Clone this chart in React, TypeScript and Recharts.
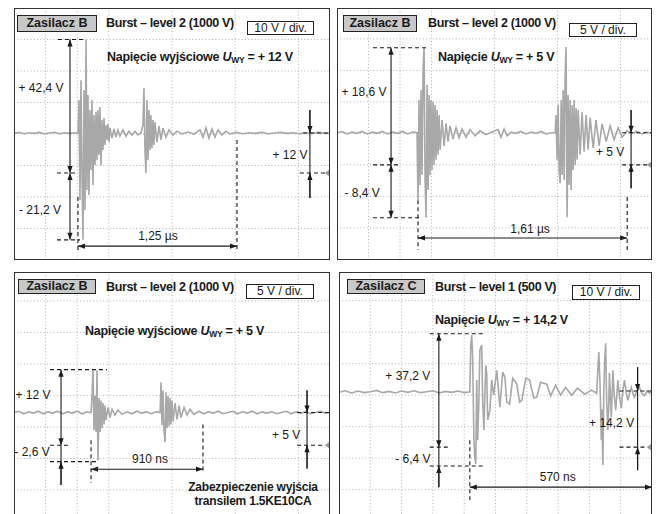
import { LineChart, Line, XAxis, YAxis, CartesianGrid, ReferenceLine, ReferenceDot } from 'recharts'

type Pt = [number, number]
type Seg = { a: Pt; b: Pt; kind: 'dash' | 'line' | 'end' | 'both' }
type Note = { at: Pt; text: string }

const FONT = '"Liberation Sans", Arial, Helvetica, sans-serif'
const TRACE = '#a8a8a8'
const INK = '#1a1a1a'

// t in ns, u in V (measured against the ground marker)

// Zasilacz B, level 2 (1000 V), +12 V, 10 V/div
const trace1: Pt[] = [
  [0, 12.6], [40, 12.9], [80, 12.5], [120, 12.8], [160, 12.6], [200, 12.9], [240, 12.5], [280, 12.7], [320, 12.9], [360, 12.5], [400, 12.8], [440, 12.6], [480, 12.8], [500, 12.6],
  [506, 12.7], [514, 23.2], [522, -8.6], [530, 29.5], [538, -0.6], [546, -21.2], [554, 26.3], [562, -11.7], [570, 42.4], [577, -5.4], [585, 24.8], [593, -7.0], [601, 20.0], [609, 1.0], [617, 23.2], [625, -3.8], [633, 18.4], [641, 2.5], [649, 19.4], [657, 4.1], [664, 20.0], [672, 5.7], [680, 21.0], [688, 2.5], [696, 16.8], [704, 7.3], [712, 17.5], [720, 8.9], [728, 15.2], [736, 10.5], [743, 15.6], [751, 9.8], [759, 14.3], [775, 11.1], [791, 14.0], [807, 11.4], [822, 13.7], [838, 11.7], [862, 13.7], [886, 11.7], [909, 13.3], [933, 12.1], [957, 13.3], [981, 12.1], [1004, 12.7],
  [1020, 15.2], [1028, 27.0], [1036, 7.3], [1044, 0], [1052, 23.2], [1060, 4.1], [1068, 20.0], [1076, 7.3], [1083, 18.4], [1091, 7.9], [1099, 16.8], [1107, 8.9], [1115, 16.2], [1131, 9.8], [1147, 14.9], [1163, 10.5], [1178, 14.3], [1202, 11.4], [1226, 13.7], [1258, 12.1], [1289, 13.3], [1329, 12.4], [1376, 13.0], [1424, 12.4],
  [1471, 13.7], [1495, 11.4], [1519, 14.3], [1542, 11.1], [1566, 14.0], [1590, 11.4], [1614, 13.7], [1645, 12.1], [1677, 13.3], [1709, 12.4],
  [1760, 12.9], [1810, 12.5], [1860, 12.8], [1910, 12.6], [1960, 12.9], [2010, 12.5], [2060, 12.7], [2110, 12.9], [2160, 12.6], [2210, 12.8], [2260, 12.5], [2310, 12.8], [2360, 12.6], [2410, 12.9], [2460, 12.6], [2500, 12.7],
]
const segs1: Seg[] = [
  { a: [348, 42.4], b: [546, 42.4], kind: 'dash' },
  { a: [340, 0], b: [506, 0], kind: 'dash' },
  { a: [340, -21.2], b: [522, -21.2], kind: 'dash' },
  { a: [506, -7.6], b: [506, -24.5], kind: 'dash' },
  { a: [1764, 10.5], b: [1764, -24.5], kind: 'dash' },
  { a: [2286, 12.7], b: [2500, 12.7], kind: 'dash' },
  { a: [2262, 0], b: [2460, 0], kind: 'dash' },
  { a: [443, 42.4], b: [443, 0], kind: 'both' },
  { a: [443, 0], b: [443, -21.2], kind: 'both' },
  { a: [506, -23.2], b: [1764, -23.2], kind: 'both' },
  { a: [2341, 20], b: [2341, -7.9], kind: 'line' },
  { a: [2341, 20], b: [2341, 12.7], kind: 'end' },
  { a: [2341, -7.9], b: [2341, 0], kind: 'end' },
]
const notes1: Note[] = [
  { at: [214, 27], text: '+ 42,4 V' },
  { at: [206, -11.7], text: '- 21,2 V' },
  { at: [1139, -20], text: '1,25 µs' },
  { at: [2183, 5.7], text: '+ 12 V' },
]

// Zasilacz B, level 2 (1000 V), +5 V, 5 V/div
const trace2: Pt[] = [
  [0, 5.1], [40, 5.3], [80, 4.9], [120, 5.2], [160, 5.0], [200, 5.3], [240, 4.9], [280, 5.2], [320, 5.0], [360, 5.3], [400, 4.9], [440, 5.2], [480, 5.0], [520, 5.3], [560, 4.9], [600, 5.2], [635, 5.1],
  [643, -5.6], [651, 10.3], [659, -3.2], [667, 11.9], [675, -1.6], [683, 15.1], [691, 18.6], [699, -2.4], [707, -8.4], [715, 12.7], [723, -4.0], [731, 11.1], [738, -1.6], [746, 10.3], [754, -0.8], [762, 10.0], [770, 0], [778, 9.5], [786, 0.8], [794, 8.7], [802, 1.6], [810, 7.9], [818, 2.4], [834, 7.1], [850, 3.0], [865, 6.6], [881, 3.7], [897, 6.2], [921, 4.1], [945, 5.9], [969, 4.3], [992, 5.7], [1024, 4.4], [1056, 5.6], [1096, 4.6], [1135, 5.4], [1183, 4.8], [1231, 5.2],
  [1278, 5.6], [1302, 4.4], [1326, 5.7], [1350, 4.6], [1382, 5.2],
  [1420, 5.0], [1460, 5.3], [1500, 4.9], [1540, 5.2], [1580, 5.0], [1620, 5.3], [1660, 4.9], [1700, 5.1],
  [1731, 5.1], [1739, 7.9], [1747, 0.8], [1755, 9.5], [1763, -0.8], [1771, -2.9], [1779, 10.3], [1787, -1.6], [1795, 11.9], [1803, -2.4], [1810, 13.5], [1818, 18.7], [1826, -8.3], [1834, 11.1], [1842, -3.2], [1850, 10.3], [1858, -4.0], [1866, 9.5], [1874, -0.8], [1882, 10.3], [1890, 0], [1898, 9.0], [1906, 0.8], [1914, 8.7], [1929, 1.6], [1945, 8.4], [1961, 2.1], [1977, 7.9], [1993, 2.4], [2009, 7.5], [2033, 2.7], [2056, 7.1], [2080, 3.0], [2104, 6.5], [2136, 3.7], [2168, 6.2], [2199, 4.0], [2231, 5.9], [2263, 4.4], [2302, 5.4],
  [2340, 5.0], [2380, 5.3], [2420, 4.9], [2460, 5.2], [2500, 5.0],
]
const segs2: Seg[] = [
  { a: [286, 18.6], b: [723, 18.6], kind: 'dash' },
  { a: [286, 0], b: [500, 0], kind: 'dash' },
  { a: [286, -8.4], b: [675, -8.4], kind: 'dash' },
  { a: [643, -5.6], b: [643, -13.5], kind: 'dash' },
  { a: [2303, -5.1], b: [2303, -13.5], kind: 'dash' },
  { a: [2263, 5.1], b: [2500, 5.1], kind: 'dash' },
  { a: [2263, 0], b: [2470, 0], kind: 'dash' },
  { a: [429, 18.6], b: [429, 0], kind: 'both' },
  { a: [429, 0], b: [429, -8.4], kind: 'both' },
  { a: [643, -11.6], b: [2303, -11.6], kind: 'both' },
  { a: [2334, 8.7], b: [2334, -3.7], kind: 'line' },
  { a: [2334, 8.7], b: [2334, 5.1], kind: 'end' },
  { a: [2334, -3.7], b: [2334, 0], kind: 'end' },
]
const notes2: Note[] = [
  { at: [214, 11.6], text: '+ 18,6 V' },
  { at: [199, -4.4], text: '- 8,4 V' },
  { at: [1532, -10.2], text: '1,61 µs' },
  { at: [2168, 2.1], text: '+ 5 V' },
]

// Zasilacz B with transil, level 2 (1000 V), +5 V, 5 V/div
const trace3: Pt[] = [
  [0, 5.2], [40, 5.4], [80, 5.0], [120, 5.3], [160, 5.1], [200, 5.4], [240, 5.0], [280, 5.3], [320, 5.1], [360, 5.4], [400, 5.0], [440, 5.3], [480, 5.1], [520, 5.4], [560, 5.0], [600, 5.3], [625, 5.2],
  [634, 5.2], [642, 7.9], [650, 11.9], [658, 2.4], [667, 7.9], [675, 2.1], [683, 11.9], [691, -2.4], [700, 7.5], [708, 2.1], [716, 7.1], [724, 2.7], [732, 6.7], [741, 3.3], [749, 6.3], [757, 4.0], [774, 6.0], [790, 4.4], [807, 5.7], [831, 4.8], [856, 5.6], [889, 4.9],
  [930, 5.3], [970, 5.0], [1010, 5.4], [1050, 5.1], [1090, 5.3], [1130, 5.0], [1170, 5.3],
  [1202, 5.2], [1210, 10.0], [1218, 3.2], [1226, 8.7], [1234, 2.4], [1243, 0.5], [1251, 8.4], [1259, 2.7], [1267, 7.8], [1276, 3.0], [1284, 7.5], [1292, 3.3], [1300, 7.1], [1309, 3.8], [1325, 6.7], [1341, 4.1], [1358, 6.3], [1374, 4.4], [1399, 6.0], [1424, 4.8], [1448, 5.7], [1481, 4.9],
  [1520, 5.4], [1560, 5.0], [1600, 5.3], [1640, 5.1], [1680, 5.4], [1720, 5.0], [1760, 5.2], [1800, 5.4], [1840, 5.0], [1880, 5.3], [1920, 5.1], [1960, 5.4], [2000, 5.0], [2040, 5.3], [2080, 5.1], [2120, 5.3], [2160, 5.0], [2200, 5.2], [2240, 5.4], [2280, 5.0], [2320, 5.3], [2360, 5.1], [2400, 5.3], [2440, 5.0], [2480, 5.2], [2520, 5.4], [2560, 5.1], [2600, 5.2],
]
const segs3: Seg[] = [
  { a: [296, 12], b: [765, 12], kind: 'dash' },
  { a: [296, 0], b: [461, 0], kind: 'dash' },
  { a: [296, -2.6], b: [683, -2.6], kind: 'dash' },
  { a: [634, 0.8], b: [634, -6], kind: 'dash' },
  { a: [1555, 3.3], b: [1555, -4], kind: 'dash' },
  { a: [2329, 5.2], b: [2600, 5.2], kind: 'dash' },
  { a: [2329, 0], b: [2535, 0], kind: 'dash' },
  { a: [387, 12], b: [387, 0], kind: 'both' },
  { a: [387, 0], b: [387, -6.3], kind: 'line' },
  { a: [387, -6.3], b: [387, -2.6], kind: 'end' },
  { a: [634, -3.8], b: [1555, -3.8], kind: 'both' },
  { a: [2411, 8.7], b: [2411, -3.7], kind: 'line' },
  { a: [2411, 8.7], b: [2411, 5.2], kind: 'end' },
  { a: [2411, -3.7], b: [2411, 0], kind: 'end' },
]
const notes3: Note[] = [
  { at: [156, 7.9], text: '+ 12 V' },
  { at: [148, -1.0], text: '- 2,6 V' },
  { at: [1119, -2.2], text: '910 ns' },
  { at: [2239, 1.7], text: '+ 5 V' },
]

// Zasilacz C, level 1 (500 V), +14,2 V, 10 V/div
const trace4: Pt[] = [
  [0, 17.4], [20, 17.9], [40, 17.2], [60, 17.8], [80, 17.3], [100, 17.6], [120, 18.0], [140, 17.3], [160, 17.7], [180, 17.2], [200, 17.8], [220, 17.4], [240, 17.9], [260, 17.3], [280, 17.6], [300, 17.9], [320, 17.2], [340, 17.7], [360, 17.4], [380, 17.8], [400, 17.3], [415, 17.5],
  [418, 17.5], [421, 32.4], [424, 35.6], [427, 28.6], [431, 2.2], [434, -3.2], [437, -5.4], [440, 21.3], [443, 2.2], [447, 14.9], [450, 30.8], [456, 32.4], [459, 14.9], [463, 5.4], [466, 16.5], [469, 26.0], [472, 23.2], [475, 8.6], [482, 11.7], [488, 21.3], [494, 16.5], [504, 24.4], [514, 12.7], [523, 23.8], [530, 22.2], [536, 14.3], [545, 13.7], [555, 21.9], [568, 20.0], [577, 14.3], [584, 14.9], [597, 21.9], [609, 21.3], [622, 15.6], [632, 15.9], [644, 20.6], [664, 20.0], [676, 16.2], [692, 19.7], [708, 16.5], [724, 19.0], [743, 16.5], [762, 18.7], [785, 16.8], [807, 18.1], [823, 17.1],
  [830, 30.2], [834, 20], [838, 2.2], [840, 12], [843, -5.7], [846, 18], [849, 28], [852, 33.0], [855, 15], [859, 5.4], [862, 14], [864, 23.5], [867, 16], [870, 9.5], [873, 18], [875, 24.4], [879, 17], [884, 11.7], [888, 17], [891, 21.3], [896, 16], [902, 12.4], [907, 18], [912, 21.3], [918, 17], [923, 14.9], [929, 17.5], [934, 19.0], [939, 17], [944, 15.9], [952, 18], [960, 18.9], [968, 17], [976, 16.3], [984, 17.8], [992, 17.2], [1000, 17.6],
]
const segs4: Seg[] = [
  { a: [290, 36], b: [466, 36], kind: 'dash' },
  { a: [290, 0], b: [348, 0], kind: 'dash' },
  { a: [290, -6], b: [463, -6], kind: 'dash' },
  { a: [418, 2.2], b: [418, -16.8], kind: 'dash' },
  { a: [896, 17.8], b: [1000, 17.8], kind: 'dash' },
  { a: [896, 0], b: [986, 0], kind: 'dash' },
  { a: [319, 36], b: [319, 0], kind: 'both' },
  { a: [319, 0], b: [319, -12.7], kind: 'line' },
  { a: [319, -12.7], b: [319, -6], kind: 'end' },
  { a: [418, -12.7], b: [1000, -12.7], kind: 'both' },
  { a: [954, 25.4], b: [954, -7.3], kind: 'line' },
  { a: [954, 25.4], b: [954, 17.8], kind: 'end' },
  { a: [954, -7.3], b: [954, 0], kind: 'end' },
]
const notes4: Note[] = [
  { at: [220, 22.5], text: '+ 37,2 V' },
  { at: [236, -3.8], text: '- 6,4 V' },
  { at: [699, -9.5], text: '570 ns' },
  { at: [871, 7.6], text: '+ 14,2 V' },
]

const ticks250 = [250, 500, 750, 1000, 1250, 1500, 1750, 2000, 2250]
const ticks260 = [260, 520, 780, 1040, 1300, 1560, 1820, 2080, 2340]
const ticks100 = [100, 200, 300, 400, 500, 600, 700, 800, 900]

const panels = [
  {
    left: 14, top: 8, w: 316, h: 252, tMax: 2500, uDomain: [-27.6, 52.4], tTicks: ticks250,
    uTicks: [-17.6, -7.6, 2.4, 12.4, 22.4, 32.4, 42.4],
    trace: trace1, segs: segs1, notes: notes1,
    title: 'Zasilacz B', burst: 'Burst – level 2 (1000 V)', scale: '10 V / div.', nap: 'Napięcie wyjściowe ', uwy: ' = + 12 V',
    box: { x: 3, y: 7, w: 80, h: 17 }, burstPos: { x: 92, b: 20 }, scaleBox: { x: 233, y: 13, w: 67, h: 14 }, napPos: { x: 93, b: 54 },
  },
  {
    left: 337, top: 8, w: 315, h: 252, tMax: 2500, uDomain: [-15.1, 24.9], tTicks: ticks250,
    uTicks: [-10, -5, 0, 5, 10, 15, 20],
    trace: trace2, segs: segs2, notes: notes2,
    title: 'Zasilacz B', burst: 'Burst – level 2 (1000 V)', scale: '5 V / div.', nap: 'Napięcie ', uwy: ' = + 5 V',
    box: { x: 6, y: 7, w: 74, h: 17 }, burstPos: { x: 91, b: 20 }, scaleBox: { x: 232, y: 15, w: 68, h: 14 }, napPos: { x: 101, b: 54 },
  },
  {
    left: 14, top: 272, w: 316, h: 252, tMax: 2600, uDomain: [-12.5, 27.5], tTicks: ticks260,
    uTicks: [-7.1, -2.1, 2.9, 7.9, 12.9, 17.9, 22.9],
    trace: trace3, segs: segs3, notes: notes3,
    title: 'Zasilacz B', burst: 'Burst – level 2 (1000 V)', scale: '5 V / div.', nap: 'Napięcie wyjściowe ', uwy: ' = + 5 V',
    box: { x: 4, y: 7, w: 78, h: 15 }, burstPos: { x: 92, b: 19.3 }, scaleBox: { x: 232, y: 12, w: 68, h: 15 }, napPos: { x: 71, b: 64 },
    footer: ['Zabezpieczenie wyjścia', 'transilem 1.5KE10CA'], footerPos: { x: 239, b: 219.3 },
  },
  {
    left: 339, top: 272, w: 313, h: 252, tMax: 1000, uDomain: [-24.4, 55.6], tTicks: ticks100,
    uTicks: [-13.5, -3.5, 6.5, 16.5, 26.5, 36.5, 46.5],
    trace: trace4, segs: segs4, notes: notes4,
    title: 'Zasilacz C', burst: 'Burst – level 1 (500 V)', scale: '10 V / div.', nap: 'Napięcie ', uwy: ' = + 14,2 V',
    box: { x: 8, y: 7, w: 78, h: 15 }, burstPos: { x: 96, b: 19.3 }, scaleBox: { x: 233, y: 13, w: 68, h: 15 }, napPos: { x: 96, b: 52.7 },
  },
]

function arrowHead(xt: number, yt: number, xf: number, yf: number) {
  const a = Math.atan2(yt - yf, xt - xf)
  const L = 7
  const W = 2.6
  const bx = xt - L * Math.cos(a)
  const by = yt - L * Math.sin(a)
  const px = -Math.sin(a) * W
  const py = Math.cos(a) * W
  return <polygon points={`${xt},${yt} ${bx + px},${by + py} ${bx - px},${by - py}`} fill={INK} />
}

function segShape(kind: Seg['kind']) {
  return (p: any) => {
    const { x1, y1, x2, y2 } = p
    if ([x1, y1, x2, y2].some((v) => v == null || Number.isNaN(v))) return <g />
    return (
      <g>
        <line
          x1={x1} y1={y1} x2={x2} y2={y2}
          stroke={INK}
          strokeWidth={1.1}
          strokeDasharray={kind === 'dash' ? '4 3' : undefined}
        />
        {(kind === 'end' || kind === 'both') && arrowHead(x2, y2, x1, y1)}
        {kind === 'both' && arrowHead(x1, y1, x2, y2)}
      </g>
    )
  }
}

function noteShape(text: string) {
  return (p: any) => (
    <text x={p.cx} y={p.cy} textAnchor="middle" dominantBaseline="central" fontSize={12} fontFamily={FONT} fill={INK}>
      {text}
    </text>
  )
}

const groundShape = (p: any) => (
  <polygon points={`${p.cx - 5},${p.cy} ${p.cx},${p.cy - 4} ${p.cx},${p.cy + 4}`} fill="#9a9a9a" />
)

const bold = { fontFamily: FONT, fontWeight: 700, fontSize: 12.5, lineHeight: '12px', color: INK, whiteSpace: 'nowrap' as const }

function Scope({ cfg }: { cfg: (typeof panels)[number] }) {
  const data = cfg.trace.map(([t, u]) => ({ t, u }))
  return (
    <div style={{ position: 'absolute', left: cfg.left, top: cfg.top, width: cfg.w, height: cfg.h }}>
      <LineChart width={cfg.w} height={cfg.h} data={data} margin={{ top: 0, right: 0, bottom: 0, left: 0 }}>
        <CartesianGrid stroke="#b0b0b0" strokeDasharray="1 2.3" />
        <XAxis type="number" dataKey="t" domain={[0, cfg.tMax]} ticks={cfg.tTicks} hide allowDataOverflow />
        <YAxis type="number" domain={cfg.uDomain} ticks={cfg.uTicks} hide allowDataOverflow width={0} />
        <Line type="linear" dataKey="u" stroke={TRACE} strokeWidth={1.6} dot={false} isAnimationActive={false} />
        {cfg.segs.map((s, i) => (
          <ReferenceLine
            key={'s' + i}
            segment={[{ x: s.a[0], y: s.a[1] }, { x: s.b[0], y: s.b[1] }]}
            ifOverflow="visible"
            shape={segShape(s.kind)}
          />
        ))}
        {cfg.notes.map((n, i) => (
          <ReferenceDot key={'n' + i} x={n.at[0]} y={n.at[1]} r={1} ifOverflow="visible" shape={noteShape(n.text)} />
        ))}
        <ReferenceDot x={cfg.tMax} y={0} r={4} ifOverflow="visible" shape={groundShape} />
      </LineChart>

      <div
        style={{
          position: 'absolute', left: cfg.box.x, top: cfg.box.y, width: cfg.box.w, height: cfg.box.h,
          boxSizing: 'border-box', border: '1px solid #222', background: '#c8c8c8',
          ...bold, lineHeight: `${cfg.box.h - 2}px`, textAlign: 'center',
        }}
      >
        {cfg.title}
      </div>
      <div style={{ position: 'absolute', left: cfg.burstPos.x, top: cfg.burstPos.b - 10.6, ...bold, letterSpacing: -0.35 }}>
        {cfg.burst}
      </div>
      <div
        style={{
          position: 'absolute', left: cfg.scaleBox.x, top: cfg.scaleBox.y, width: cfg.scaleBox.w, height: cfg.scaleBox.h,
          boxSizing: 'border-box', border: '1px solid #222', background: '#fff',
          fontFamily: FONT, fontSize: 12, lineHeight: `${cfg.scaleBox.h - 2}px`, textAlign: 'center', color: INK,
        }}
      >
        {cfg.scale}
      </div>
      <div style={{ position: 'absolute', left: cfg.napPos.x, top: cfg.napPos.b - 10.6, ...bold, letterSpacing: -0.25 }}>
        {cfg.nap}
        <i>U</i>
        <span style={{ fontSize: 8.5, position: 'relative', top: 2, letterSpacing: -0.3 }}>WY</span>
        {cfg.uwy}
      </div>
      {cfg.footer &&
        cfg.footer.map((line, i) => (
          <div
            key={line}
            style={{
              position: 'absolute', left: cfg.footerPos!.x - 80, width: 160, textAlign: 'center',
              top: cfg.footerPos!.b + i * 14 - 10.6, ...bold, fontSize: 12, letterSpacing: -0.2,
            }}
          >
            {line}
          </div>
        ))}
      <div
        style={{
          position: 'absolute', left: 0, top: 0, width: cfg.w, height: cfg.h,
          boxSizing: 'border-box', border: '1px solid #333', pointerEvents: 'none',
        }}
      />
    </div>
  )
}

export default function App() {
  return (
    <div style={{ position: 'fixed', left: 0, top: 0, width: 660, height: 514, overflow: 'hidden', background: '#fff' }}>
      {panels.map((p, i) => (
        <Scope key={i} cfg={p} />
      ))}
    </div>
  )
}
